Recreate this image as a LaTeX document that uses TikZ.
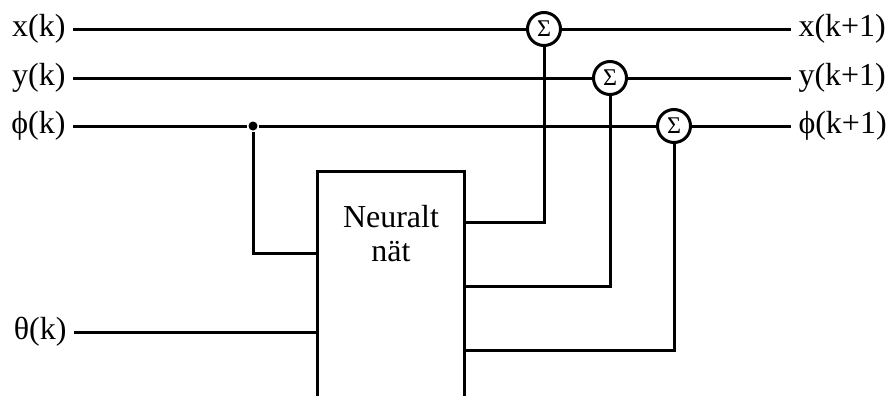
\documentclass[tikz,border=0pt]{standalone}
\usepackage{fontspec}
\setmainfont{Liberation Serif}
\usetikzlibrary{positioning}

\begin{document}
\begin{tikzpicture}[x=0.5pt, y=-0.5pt, line width=1.5pt,
      sig/.style={draw, circle, minimum size=16.5pt, inner sep=0pt,
                  font=\fontsize{12}{12}\selectfont},
      lbl/.style={font=\fontsize{16}{17}\selectfont, inner sep=3pt},
      dot/.style={circle, fill, inner sep=0pt, minimum size=4.5pt}]

    \useasboundingbox (0,0) rectangle (890,396);

    % inputs and outputs
    \node[lbl, anchor=east] (xin)    at (73,29)  {x(k)};
    \node[lbl, anchor=east] (yin)    at (73,78)  {y(k)};
    \node[lbl, anchor=east] (phiin)  at (73,126) {ϕ(k)};
    \node[lbl, anchor=east] (thin)   at (74,332) {θ(k)};
    \node[lbl, anchor=west] (xout)   at (791,29)  {x(k+1)};
    \node[lbl, anchor=west] (yout)   at (791,78)  {y(k+1)};
    \node[lbl, anchor=west] (phiout) at (791,126) {ϕ(k+1)};

    % summation points
    \node[sig] (s1) at (544,29)  {Σ};
    \node[sig] (s2) at (610,78)  {Σ};
    \node[sig] (s3) at (674,126) {Σ};

    % branch point on phi
    \node[dot] (tap) at (253,126) {};

    % network block (open at the bottom)
    \node[minimum width=72pt, minimum height=111.5pt, inner sep=0pt] (net) at (391,284.5) {};
    \draw (net.south west) |- (net.north east) -- (net.south east);
    \node[lbl, align=center, below=13pt of net.north] (nettxt) {Neuralt\\nät};

    % state lines
    \draw (xin) -- (s1) -- (xout);
    \draw (yin) -- (s2) -- (yout);
    \draw (phiin) -- (tap) -- (s3) -- (phiout);

    % into the net
    \draw (tap) |- (net.west |- 0,253);
    \draw (thin) -- (thin -| net.west);

    % out of the net
    \draw (net.east |- 0,222) -| (s1);
    \draw (net.east |- 0,286) -| (s2);
    \draw (net.east |- 0,350) -| (s3);

\end{tikzpicture}
\end{document}
